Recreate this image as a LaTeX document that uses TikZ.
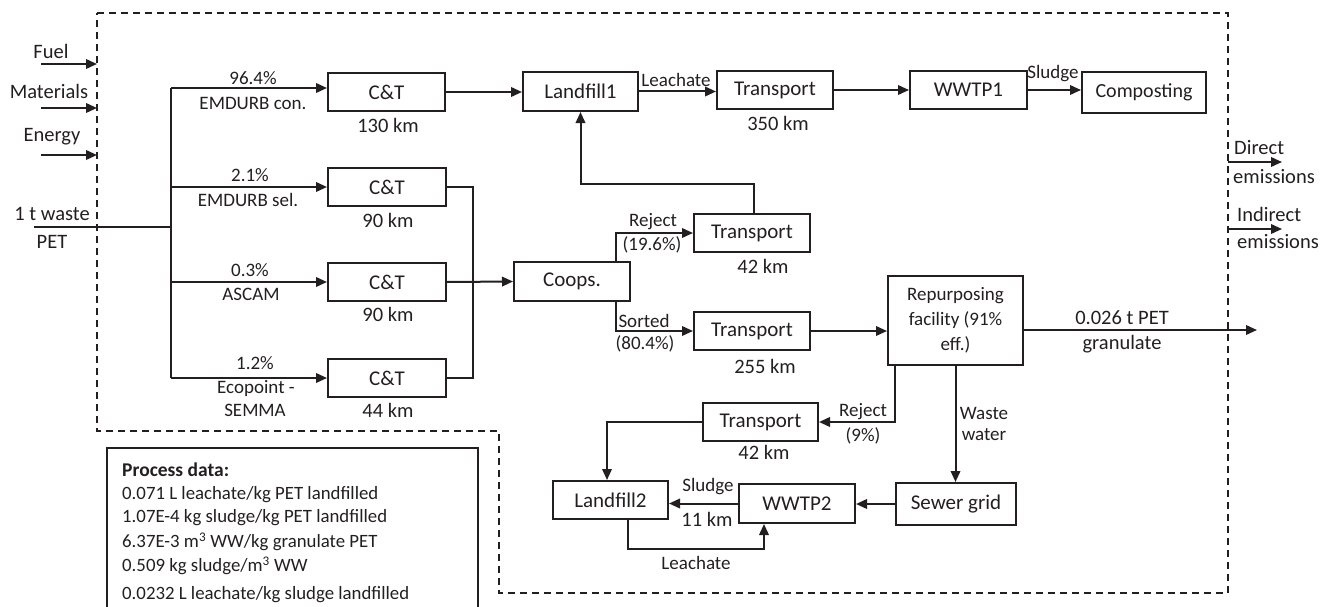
\documentclass[tikz,border=0pt]{standalone}
\usepackage{fontspec}
\setmainfont{Carlito}
\usetikzlibrary{arrows.meta,calc}
\definecolor{ink}{HTML}{231F20}
\begin{document}
\begin{tikzpicture}[x=1pt,y=-1pt,
  box/.style={draw=ink,line width=2pt,rectangle,inner sep=0pt,text=ink,font=\fontsize{21}{24}\selectfont,align=center},
  lbl/.style={inner sep=0pt,text=ink,font=\fontsize{19}{22}\selectfont,align=center},
  big/.style={inner sep=0pt,text=ink,font=\fontsize{20.5}{24}\selectfont,align=center},
  pd/.style={inner sep=0pt,text=ink,font=\fontsize{18.8}{22}\selectfont,anchor=west},
  ln/.style={draw=ink,line width=2pt},
  arr/.style={draw=ink,line width=2pt,-{Triangle[length=11pt,width=9.5pt]}},
  bound/.style={draw=ink,line width=1.7pt,dash pattern=on 7pt off 5pt}]
\useasboundingbox (0,0) rectangle (1321,607);

% system boundary
\draw[bound] (97,13) -- (1228,13) -- (1228,593) -- (499,593) -- (499,431) -- (97,431) -- cycle;

% boxes
\node[box,minimum width=117,minimum height=38] (ct1) at (386.5,92) {C\&T};
\node[box,minimum width=118,minimum height=38] (ct2) at (387,187) {C\&T};
\node[box,minimum width=118,minimum height=38] (ct3) at (387,282) {C\&T};
\node[box,minimum width=118,minimum height=38] (ct4) at (387,378) {C\&T};
\node[box,minimum width=115,minimum height=39] (lf1) at (580.5,91.5) {Landfill1};
\node[box,minimum width=116,minimum height=38] (trT) at (775,90) {Transport};
\node[box,minimum width=117,minimum height=38] (ww1) at (968.5,90) {WWTP1};
\node[box,minimum width=124,minimum height=41,font=\fontsize{20}{24}\selectfont] (comp) at (1144,92.5) {Composting};
\node[box,minimum width=116,minimum height=39] (coops) at (572,281.5) {Coops.};
\node[box,minimum width=116,minimum height=38] (trR) at (752,233) {Transport};
\node[box,minimum width=116,minimum height=38] (trS) at (752,331) {Transport};
\node[box,minimum width=135,minimum height=89,font=\fontsize{19}{25}\selectfont] (rep) at (955.5,320.5) {Repurposing\\facility (91\%\\eff.)};
\node[box,minimum width=115,minimum height=38] (trB) at (760.5,422) {Transport};
\node[box,minimum width=115,minimum height=38] (lf2) at (610.5,500) {Landfill2};
\node[box,minimum width=116,minimum height=39] (ww2) at (797,503.5) {WWTP2};
\node[box,minimum width=120,minimum height=42] (sew) at (956,504) {Sewer grid};

% inputs
\coordinate (f0) at (41,64);  \coordinate (f1) at (97,64);
\coordinate (m0) at (41,108); \coordinate (m1) at (97,108);
\coordinate (e0) at (41,155); \coordinate (e1) at (97,155);
\draw[arr] (f0) -- (f1);
\draw[arr] (m0) -- (m1);
\draw[arr] (e0) -- (e1);
\node[big] (tfuel) at (51,51) {Fuel};
\node[big] (tmat) at (49,91) {Materials};
\node[big] (tene) at (52,137) {Energy};
\node[big] (tw1) at (52,214) {1 t waste};
\node[big] (tw2) at (52,242) {PET};

% waste input and trunk
\coordinate (w0) at (34,227);
\coordinate (j) at (171,227);
\coordinate (b1) at (171,88);
\coordinate (b2) at (171,187);
\coordinate (b3) at (171,282);
\coordinate (b4) at (171,378);
\draw[ln] (w0) -- (j);
\draw[ln] (b1) -- (b4);
\draw[arr] (b1) -- (b1 -| ct1.west);
\draw[arr] (b2) -- (ct2.west);
\draw[arr] (b3) -- (ct3.west);
\draw[arr] (b4) -- (ct4.west);
\node[lbl] (p1) at (253,78) {96.4\%};
\node[lbl] (p1b) at (253,103) {EMDURB con.};
\node[lbl] (p2) at (250,175) {2.1\%};
\node[lbl] (p2b) at (248,200) {EMDURB sel.};
\node[lbl] (p3) at (250,270) {0.3\%};
\node[lbl] (p3b) at (251,294) {ASCAM};
\node[lbl] (p4) at (255,363) {1.2\%};
\node[lbl] (p4b) at (256,388) {Ecopoint -};
\node[lbl] (p4c) at (255,410) {SEMMA};
\node[big] (k1) at (388,125) {130 km};
\node[big] (k2) at (388,220) {90 km};
\node[big] (k3) at (388,314) {90 km};
\node[big] (k4) at (388,410) {44 km};

% collection to coops
\coordinate (mx) at (473,0);
\draw[ln] (ct2.east) -| (mx |- ct4.east) -- (ct4.east);
\draw[arr] (ct3.east) -- (coops.west);

% top row
\draw[arr] (ct1.east) -- (ct1.east -| lf1.west);
\draw[arr] (lf1.east) -- (lf1.east -| trT.west);
\draw[arr] (trT.east) -- (ww1.west);
\draw[arr] (ww1.east) -- (ww1.east -| comp.west);
\node[lbl] (tl1) at (676,80) {Leachate};
\node[lbl] (ts1) at (1053,74) {Sludge};
\node[big] (k5) at (778,123) {350 km};

% coops outputs
\coordinate (cx) at (616,0);
\draw[arr] (cx |- coops.north) |- (trR.west);
\draw[arr] (cx |- coops.south) |- (trS.west);
\node[lbl] (tr1) at (653,222) {Reject};
\node[lbl] (tr2) at (652,245) {(19.6\%)};
\node[lbl] (ts2) at (644,321) {Sorted};
\node[lbl] (ts3) at (645,344) {(80.4\%)};
\node[big] (k6) at (763,266) {42 km};
\node[big] (k7) at (765,366) {255 km};

% reject to landfill1
\coordinate (rx) at (754,184);
\draw[arr] (rx |- trR.north) -- (rx) -| (lf1.south);

% sorted to repurposing
\draw[arr] (trS.east) -- (trS.east -| rep.west);
\coordinate (out) at (1257,330);
\draw[arr] (rep.east |- out) -- (out);
\node[big] (tg1) at (1122,318) {0.026 t PET};
\node[big] (tg2) at (1122,344) {granulate};

% emissions
\coordinate (d0) at (1228,162); \coordinate (d1) at (1282,162);
\coordinate (i0) at (1228,229); \coordinate (i1) at (1282,229);
\draw[arr] (d0) -- (d1);
\draw[arr] (i0) -- (i1);
\node[big,anchor=west] (td1) at (1234,148) {Direct};
\node[big,anchor=west] (td2) at (1233,177) {emissions};
\node[big,anchor=west] (ti1) at (1237,214) {Indirect};
\node[big,anchor=west] (ti2) at (1237,242) {emissions};

% repurposing outputs
\coordinate (rj) at (895,422);
\draw[arr] (rj |- rep.south) -- (rj) -- (rj -| trB.east);
\node[lbl] (tr3) at (863,412) {Reject};
\node[lbl] (tr4) at (863,436) {(9\%)};
\node[big] (k8) at (764,452) {42 km};
\draw[arr] (rep.south) -- (rep.south |- sew.north);
\node[lbl] (tww1) at (984,413) {Waste};
\node[lbl] (tww2) at (984,435) {water};

% bottom
\coordinate (lx) at (607,0);
\draw[arr] (trB.west) -| (lx |- lf2.north);
\draw[arr] (sew.west) -- (sew.west -| ww2.east);
\draw[arr] (ww2.west) -- (ww2.west -| lf2.east);
\node[lbl] (ts4) at (708,487) {Sludge};
\node[big] (k9) at (707,519) {11 km};
\coordinate (lb) at (628,549);
\coordinate (lc) at (764,549);
\draw[arr] (lb |- lf2.south) -- (lb) -- (lc) -- (lc |- ww2.south);
\node[lbl] (tl2) at (696,563) {Leachate};

% process data
\draw[draw=ink,line width=2pt] (107,612) -- (107,448) -- (478,448) -- (478,612);
\node[pd,font=\bfseries\fontsize{19.5}{22}\selectfont] (pd0) at (122,470) {Process data:};
\node[pd] (pd1) at (122,495) {0.071 L leachate/kg PET landfilled};
\node[pd] (pd2) at (122,518) {1.07E-4 kg sludge/kg PET landfilled};
\node[pd] (pd3) at (122,542) {6.37E-3 m\textsuperscript{3} WW/kg granulate PET};
\node[pd] (pd4) at (122,566) {0.509 kg sludge/m\textsuperscript{3} WW};
\node[pd] (pd5) at (122,595) {0.0232 L leachate/kg sludge landfilled};
\end{tikzpicture}
\end{document}
